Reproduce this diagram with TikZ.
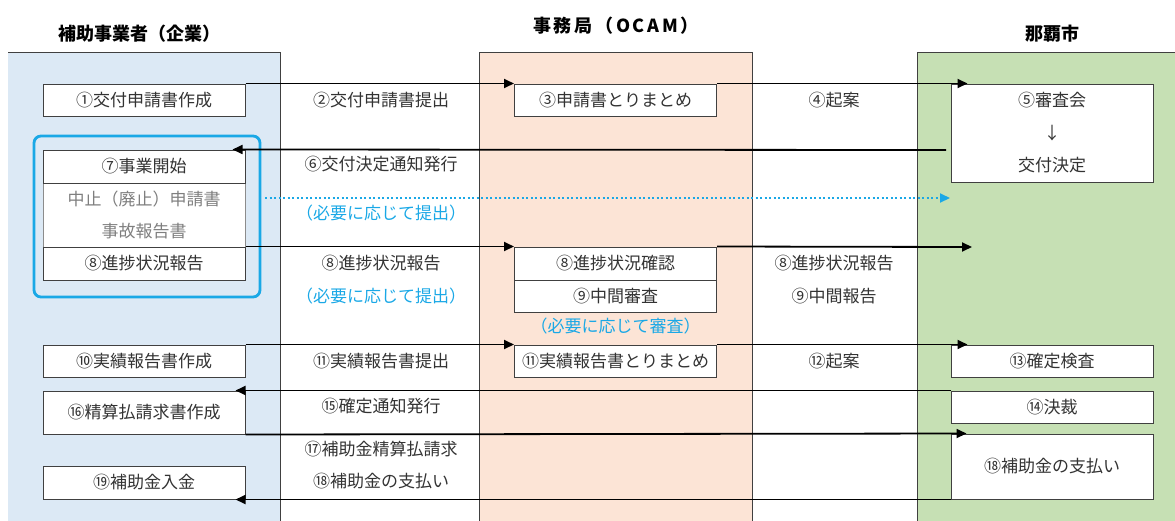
\documentclass[tikz,border=0pt]{standalone}
\usepackage{fontspec}
\setmainfont{Noto Sans CJK JP}
\usetikzlibrary{arrows.meta,calc}
\definecolor{laneblue}{HTML}{DCE9F5}
\definecolor{laneorange}{HTML}{FCE4D6}
\definecolor{lanegreen}{HTML}{C6E0B4}
\definecolor{cyanline}{HTML}{1AA8E6}
\definecolor{txt}{HTML}{333333}
\definecolor{graytxt}{HTML}{7F7F7F}
\definecolor{border}{HTML}{404040}
\newcommand{\bodyfont}{\fontsize{17}{20}\selectfont}
\tikzset{
  box/.style={draw=border, line width=1pt, fill=white, minimum width=202pt,
    minimum height=32pt, inner sep=0pt, text=txt, font=\bodyfont},
  graybox/.style={draw=black!45, line width=1pt, fill=white, minimum width=202pt,
    inner sep=0pt, text=graytxt, align=center, font=\fontsize{17}{32}\selectfont},
  lbl/.style={text=txt, inner sep=0pt, font=\bodyfont},
  note/.style={text=cyanline, inner sep=0pt, font=\bodyfont},
  title/.style={text=black, inner sep=0pt, font=\fontsize{18}{22}\selectfont\bfseries},
  arr/.style={draw=black, line width=1.8pt, -{Triangle[length=10pt,width=9pt]}},
  dotarr/.style={draw=cyanline, line width=2pt, dash pattern=on 2pt off 2.5pt,
    -{Triangle[length=10pt,width=9pt]}},
  grp/.style={draw=cyanline, line width=2.8pt, rounded corners=7pt,
    minimum width=226pt, minimum height=161pt, inner sep=0pt},
  laneline/.style={draw=border, line width=0.9pt}
}
\begin{document}
\begin{tikzpicture}[x=1pt,y=-1pt]
\useasboundingbox (0,0) rectangle (1175,520);
% lanes
\fill[laneblue] (8,52) rectangle (280,522);
\draw[laneline] (8,52) -- (280,52) -- (280,522);
\fill[laneorange] (479,52) rectangle (752,522);
\draw[laneline] (479,522) -- (479,52) -- (752,52) -- (752,522);
\fill[lanegreen] (917,52) rectangle (1177,522);
\draw[laneline] (917,522) -- (917,52) -- (1177,52);
% titles
\node[title] (t1) at (139,34) {補助事業者（企業）};
\node[title] (t2) at (616,26) {\addfontfeature{LetterSpace=15}事務局（OCAM）};
\node[title] (t3) at (1052,34) {那覇市};
% group frame
\node[grp] (grp) at (147,216.5) {};
% boxes
\node[box] (b1) at (144,100) {①交付申請書作成};
\node[box] (b3) at (615.5,100) {③申請書とりまとめ};
\node[box, minimum height=98pt, align=center, font=\fontsize{17}{32.5}\selectfont] (b5) at (1052,133) {⑤審査会\\↓\\交付決定};
\node[graybox, minimum height=64pt] (bx) at (144,215) {中止（廃止）申請書\\事故報告書};
\node[box, minimum height=33pt] (b7) at (144,166.5) {⑦事業開始};
\node[box, minimum height=33pt] (b8a) at (144,263.5) {⑧進捗状況報告};
\node[box, minimum height=33pt] (b8b) at (615.5,263.5) {⑧進捗状況確認};
\node[box] (b9) at (615.5,296) {⑨中間審査};
\node[box] (b10) at (144,361) {⑩実績報告書作成};
\node[box] (b11) at (615.5,361) {⑪実績報告書とりまとめ};
\node[box] (b13) at (1052,361) {⑬確定検査};
\node[box, minimum height=43pt] (b16) at (144,412.5) {⑯精算払請求書作成};
\node[box] (b14) at (1052,407) {⑭決裁};
\node[box, minimum height=65pt] (b18) at (1052,466.5) {⑱補助金の支払い};
\node[box, minimum height=33pt] (b19) at (144,482.5) {⑲補助金入金};
% labels
\node[lbl] (l2) at (381,100) {②交付申請書提出};
\node[lbl] (l4) at (834,100) {④起案};
\node[lbl] (l6) at (381,164) {⑥交付決定通知発行};
\node[note] (n1) at (381,213) {（必要に応じて提出）};
\node[lbl] (l8) at (381,263) {⑧進捗状況報告};
\node[note] (n2) at (381,296) {（必要に応じて提出）};
\node[note] (n3) at (615.5,326) {（必要に応じて審査）};
\node[lbl] (l8b) at (834,263) {⑧進捗状況報告};
\node[lbl] (l9) at (834,296) {⑨中間報告};
\node[lbl] (l11) at (381,361) {⑪実績報告書提出};
\node[lbl] (l12) at (834,361) {⑫起案};
\node[lbl] (l15) at (381,406) {⑮確定通知発行};
\node[lbl] (l17) at (381,449) {⑰補助金精算払請求};
\node[lbl] (l18) at (381,481) {⑱補助金の支払い};
% free ends
\coordinate (s6) at (946,150);
\coordinate (d1) at (265,198);
\coordinate (d2) at (950,198);
\coordinate (e8) at (972,247);
% connectors
\draw[arr] (b1.north east) -- (b3.north west);
\draw[arr] (b3.north east) -- ($(b5.north west)+(17,0)$);
\draw[arr] (s6) -- ($(b7.north east)+(-13,0)$);
\draw[dotarr] (d1) -- (d2);
\draw[arr] (b8a.north east) -- (b8b.north west);
\draw[arr] (b8b.north east) -- (e8);
\draw[arr] (b10.north east) -- (b11.north west);
\draw[arr] (b11.north east) -- ($(b13.north west)+(17,0)$);
\draw[arr] (b14.north west) -- ($(b16.north east)+(-10,0)$);
\draw[arr] (b16.south east) -- ($(b18.north west)+(16,0)$);
\draw[arr] (b18.south west) -- ($(b19.south east)+(-10,0)$);
\end{tikzpicture}
\end{document}
